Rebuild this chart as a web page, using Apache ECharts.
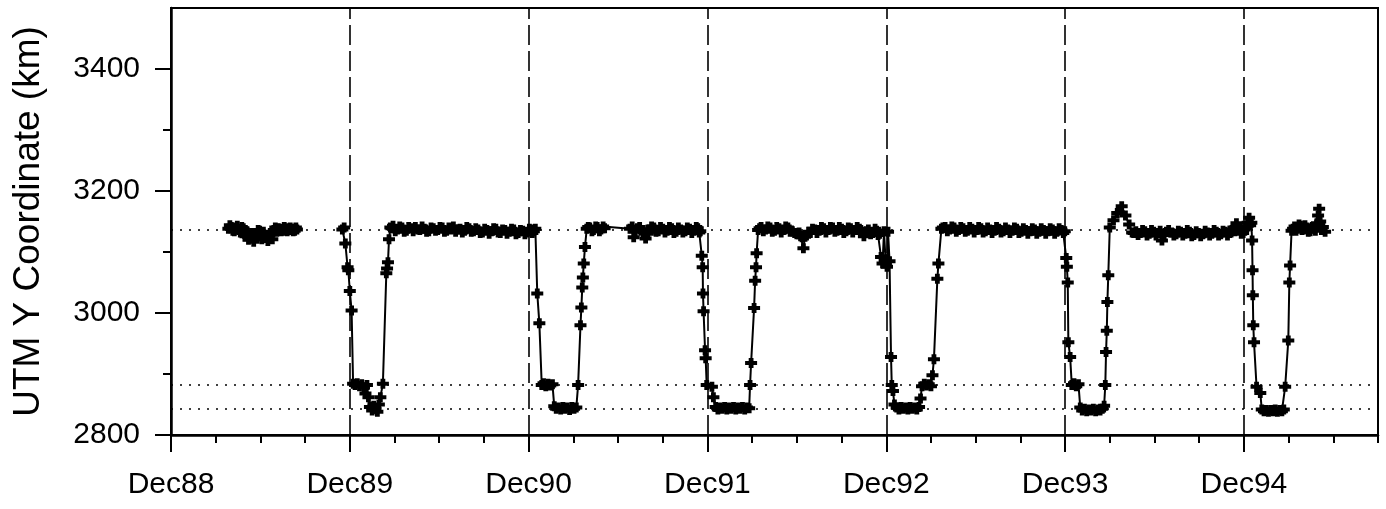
<!DOCTYPE html>
<html>
<head>
<meta charset="utf-8">
<script src="https://cdn.jsdelivr.net/npm/echarts@6/dist/echarts.min.js"></script>
<style>
  html, body { margin: 0; padding: 0; background: #fff; }
  #chart { width: 1386px; height: 509px; }
</style>
</head>
<body>
<div id="chart"></div>
<script>
// Time is counted in months after December 1988.
const yearTicks = [0, 12, 24, 36, 48, 60, 72];
const yearLabels = ['Dec88', 'Dec89', 'Dec90', 'Dec91', 'Dec92', 'Dec93', 'Dec94'];
const quarterTicks = [0, 3, 6, 9, 12, 15, 18, 21, 24, 27, 30, 33, 36, 39, 42, 45, 48, 51, 54, 57, 60, 63, 66, 69, 72, 75, 78, 81];
const yTicks = [2800, 2900, 3000, 3100, 3200, 3300, 3400];
const yLabelTicks = [2800, 3000, 3200, 3400];
const winterLines = [12, 24, 36, 48, 60, 72];
const referenceLevels = [3136, 2882, 2843];

// Fixes [month, UTM Y km]
const fixes1989 = [
  [3.85,3138],[3.95,3144],[4.05,3141],[4.15,3135],[4.25,3134],[4.35,3140],[4.45,3143],[4.55,3136],
  [4.65,3132],[4.75,3141],[4.85,3139],[4.92,3130],[5.0,3126],[5.1,3133],[5.2,3120],[5.3,3128],
  [5.4,3131],[5.48,3124],[5.55,3117],[5.65,3130],[5.75,3125],[5.85,3136],[5.95,3135],[6.02,3127],
  [6.1,3121],[6.2,3133],[6.3,3128],[6.4,3124],[6.5,3118],[6.6,3127],[6.7,3130],[6.8,3121],
  [6.9,3136],[7.0,3140],[7.1,3133],[7.2,3139],[7.3,3138],[7.4,3134],[7.5,3135],[7.6,3141],
  [7.7,3139],[7.8,3134],[7.9,3136],[8.0,3140],[8.1,3138],[8.2,3134],[8.3,3135],[8.38,3140],[8.45,3137]
];

const winter1990 = [
  [11.5,3137],[11.62,3140],[11.7,3114],[11.85,3075],[11.9,3070],[12.0,3036],[12.12,3004],[12.22,2884],
  [12.35,2882],[12.5,2885],[12.65,2880],[12.8,2883],[12.95,2878],[13.05,2868],[13.15,2882],[13.25,2862],
  [13.35,2846],[13.5,2840],[13.6,2848],[13.72,2843],[13.85,2838],[13.95,2850],[14.05,2862],[14.22,2884],
  [14.45,3065],[14.5,3073],[14.56,3083],[14.63,3121],[14.72,3140]
];
const summer1990 = [
  [14.8,3139],[14.9,3143],[15.05,3134],[15.2,3137],[15.35,3142],[15.5,3140],[15.65,3133],[15.8,3135],
  [15.95,3141],[16.1,3139],[16.25,3134],[16.4,3141],[16.55,3137],[16.7,3136],[16.85,3142],[17.0,3138],
  [17.15,3133],[17.3,3134],[17.45,3140],[17.6,3139],[17.75,3135],[17.9,3136],[18.05,3141],[18.2,3140],
  [18.35,3133],[18.5,3135],[18.65,3140],[18.8,3137],[18.95,3142],[19.1,3133],[19.25,3137],[19.4,3138],
  [19.55,3132],[19.7,3135],[19.85,3141],[20.0,3139],[20.15,3133],[20.3,3134],[20.45,3139],[20.6,3137],
  [20.75,3131],[20.9,3132],[21.05,3138],[21.2,3136],[21.35,3130],[21.5,3134],[21.65,3139],[21.8,3138],
  [21.95,3132],[22.1,3131],[22.25,3137],[22.4,3136],[22.55,3130],[22.7,3133],[22.85,3138],[23.0,3137],
  [23.15,3129],[23.3,3131],[23.45,3136],[23.6,3135],[23.75,3129],[23.9,3132],[24.05,3138],[24.15,3137],
  [24.25,3131],[24.35,3134]
];

const winter1991 = [
  [24.45,3138],[24.58,3032],[24.72,2983],[24.88,2882],[25.0,2885],[25.15,2880],[25.3,2884],[25.45,2881],
  [25.6,2883],[25.72,2847],[25.85,2843],[26.0,2845],[26.15,2842],[26.3,2846],[26.45,2843],[26.6,2845],
  [26.75,2841],[26.9,2846],[27.05,2843],[27.2,2845],[27.32,2882],[27.48,2980],[27.54,3009],[27.6,3042],
  [27.64,3058],[27.7,3081],[27.78,3108],[27.9,3138]
];
const summer1991 = [
  [28.0,3141],[28.1,3140],[28.25,3134],[28.35,3136],[28.5,3142],[28.6,3141],[28.75,3134],[28.85,3137],
  [29.0,3142],[29.1,3139],
  [30.8,3138],[30.95,3142],[31.05,3124],[31.15,3134],[31.3,3139],[31.45,3141],[31.55,3135],[31.7,3132],
  [31.85,3122],[32.0,3130],[32.1,3137],[32.25,3142],[32.4,3140],[32.55,3133],[32.7,3134],[32.85,3141],
  [33.0,3138],[33.15,3132],[33.3,3135],[33.45,3141],[33.6,3139],[33.75,3131],[33.9,3133],[34.05,3140],
  [34.2,3137],[34.35,3132],[34.5,3134],[34.65,3140],[34.8,3138],[34.95,3131],[35.1,3135],[35.25,3141],
  [35.35,3139],[35.45,3132],[35.52,3134]
];

const winter1992 = [
  [35.62,3094],[35.68,3075],[35.7,3032],[35.74,3003],[35.84,2939],[35.88,2926],[35.95,2882],[36.3,2879],
  [36.4,2862],[36.55,2846],[36.7,2842],[36.85,2845],[37.0,2843],[37.15,2846],[37.3,2842],[37.45,2845],
  [37.6,2843],[37.75,2846],[37.9,2842],[38.05,2845],[38.2,2843],[38.35,2846],[38.5,2842],[38.65,2845],
  [38.8,2844],[38.86,2882],[38.93,2918],[39.13,3008],[39.2,3053],[39.26,3075],[39.3,3098],[39.4,3136]
];
const summer1992 = [
  [39.5,3139],[39.6,3141],[39.75,3134],[39.9,3137],[40.05,3142],[40.2,3140],[40.35,3133],[40.5,3135],
  [40.65,3141],[40.8,3139],[40.95,3132],[41.1,3136],[41.25,3142],[41.4,3140],[41.55,3133],[41.7,3134],
  [41.85,3131],[42.0,3129],[42.15,3132],[42.25,3126],[42.35,3124],[42.44,3106],[42.55,3125],[42.65,3127],
  [42.8,3133],[42.9,3131],[43.05,3138],[43.2,3137],[43.35,3131],[43.5,3135],[43.65,3141],[43.8,3139],
  [43.95,3132],[44.1,3136],[44.25,3141],[44.4,3140],[44.55,3133],[44.7,3135],[44.85,3141],[45.0,3138],
  [45.15,3131],[45.3,3134],[45.45,3140],[45.6,3139],[45.75,3132],[45.9,3136],[46.05,3141],[46.2,3138],
  [46.35,3131],[46.5,3126],[46.65,3134],[46.8,3137],[46.95,3129],[47.1,3131],[47.25,3138],[47.35,3135],
  [47.45,3128],[47.55,3130]
];

const winter1993 = [
  [47.65,3092],[47.75,3081],[47.85,3134],[47.95,3088],[48.05,3076],[48.12,3133],[48.22,3085],[48.32,2928],
  [48.37,2882],[48.45,2872],[48.55,2850],[48.7,2845],[48.85,2842],[49.0,2846],[49.15,2843],[49.3,2845],
  [49.45,2842],[49.6,2846],[49.75,2843],[49.9,2845],[50.05,2842],[50.2,2846],[50.3,2860],[50.4,2880],
  [50.55,2884],[50.7,2881],[50.85,2883],[51.0,2880],[51.1,2898],[51.2,2924],[51.43,3056],[51.5,3081],[51.7,3138]
];
const summer1993 = [
  [51.8,3140],[51.95,3141],[52.1,3134],[52.25,3137],[52.4,3142],[52.55,3140],[52.7,3133],[52.85,3136],
  [53.0,3141],[53.15,3139],[53.3,3133],[53.45,3135],[53.6,3141],[53.75,3138],[53.9,3132],[54.05,3136],
  [54.2,3141],[54.35,3139],[54.5,3132],[54.65,3134],[54.8,3140],[54.95,3137],[55.1,3131],[55.25,3135],
  [55.4,3141],[55.55,3138],[55.7,3132],[55.85,3134],[56.0,3140],[56.15,3137],[56.3,3131],[56.45,3135],
  [56.6,3140],[56.75,3138],[56.9,3131],[57.05,3133],[57.2,3139],[57.35,3136],[57.5,3130],[57.65,3134],
  [57.8,3139],[57.95,3137],[58.1,3130],[58.25,3133],[58.4,3139],[58.55,3136],[58.7,3130],[58.85,3134],
  [59.0,3139],[59.15,3137],[59.3,3130],[59.45,3133],[59.6,3139],[59.75,3136],[59.88,3131],[59.98,3134]
];

const winter1994 = [
  [60.08,3090],[60.12,3076],[60.18,3050],[60.22,2952],[60.34,2928],[60.45,2882],[60.6,2885],[60.75,2880],
  [60.9,2883],[61.02,2845],[61.15,2840],[61.3,2843],[61.45,2839],[61.6,2842],[61.75,2840],[61.9,2843],
  [62.05,2839],[62.2,2842],[62.35,2840],[62.5,2843],[62.62,2848],[62.7,2882],[62.75,2936],[62.8,2971],
  [62.84,3018],[62.9,3062],[63.0,3140],[63.25,3152],[63.5,3164],[63.8,3175],[64.05,3160],[64.3,3145],[64.5,3132]
];
const summer1994 = [
  [64.6,3131],[64.75,3134],[64.9,3128],[65.05,3131],[65.2,3136],[65.35,3134],[65.5,3127],[65.65,3130],
  [65.8,3136],[65.95,3133],[66.1,3127],[66.25,3131],[66.38,3135],[66.5,3119],[66.65,3128],[66.8,3133],
  [66.95,3136],[67.15,3132],[67.3,3127],[67.45,3129],[67.6,3135],[67.75,3133],[67.9,3127],[68.05,3130],
  [68.2,3136],[68.35,3133],[68.5,3126],[68.65,3128],[68.8,3134],[68.95,3131],[69.1,3126],[69.25,3129],
  [69.4,3135],[69.55,3132],[69.7,3127],[69.85,3130],[70.0,3136],[70.15,3133],[70.3,3127],[70.45,3129],
  [70.6,3135],[70.75,3133],[70.9,3127],[71.05,3131],[71.2,3136],[71.3,3140],[71.4,3134],[71.5,3147],
  [71.6,3141],[71.7,3136],[71.82,3130],[71.95,3131],[72.05,3137],[72.15,3142],[72.25,3148],[72.35,3156],
  [72.42,3144],[72.5,3148]
];

const winter1995 = [
  [72.55,3119],[72.58,3070],[72.6,3029],[72.63,2980],[72.68,2952],[72.85,2879],[73.1,2869],[73.2,2842],
  [73.35,2839],[73.5,2841],[73.65,2838],[73.8,2841],[73.95,2839],[74.1,2842],[74.25,2838],[74.4,2841],
  [74.55,2839],[74.68,2842],[74.77,2879],[74.98,2955],[75.05,3050],[75.1,3078],[75.2,3135]
];
const summer1995 = [
  [75.3,3138],[75.4,3142],[75.5,3135],[75.6,3138],[75.7,3145],[75.8,3143],[75.9,3136],[76.0,3137],
  [76.1,3144],[76.2,3140],[76.32,3133],[76.45,3134],[76.58,3141],[76.7,3139],[76.8,3135],[76.9,3147],
  [76.98,3160],[77.05,3171],[77.12,3150],[77.2,3136],[77.3,3141],[77.45,3133]
];

const track = [].concat(
  winter1990, summer1990, winter1991, summer1991, winter1992, summer1992,
  winter1993, summer1993, winter1994, summer1994, winter1995, summer1995
);

const FONT = '"Liberation Sans", Arial, Helvetica, sans-serif';
const INK = '#000';
const plusSymbol = 'path://M0,3H3V0H7V3H10V7H7V10H3V7H0Z';

const trackStyle = {
  type: 'line',
  xAxisIndex: 0,
  yAxisIndex: 0,
  symbol: plusSymbol,
  symbolSize: [12, 10],
  showSymbol: true,
  showAllSymbol: true,
  itemStyle: { color: INK },
  lineStyle: { color: INK, width: 2 },
  z: 5,
  silent: true
};

// The second grid shares the plot rectangle and only carries the long ticks.
const plotRect = { left: 171, right: 8, top: 8, bottom: 74 };

const chart = echarts.init(document.getElementById('chart'), null, { renderer: 'canvas' });
chart.setOption({
  animation: false,
  backgroundColor: '#fff',
  grid: [
    Object.assign({ show: true, borderColor: INK, borderWidth: 2, backgroundColor: 'transparent' }, plotRect),
    Object.assign({ show: false }, plotRect)
  ],
  xAxis: [
    {
      gridIndex: 0, type: 'value', min: 0, max: 81, position: 'bottom',
      axisLine: { show: true, lineStyle: { color: INK, width: 2.5 } },
      axisTick: { show: true, inside: false, length: 8, customValues: quarterTicks, lineStyle: { color: INK, width: 2 } },
      axisLabel: {
        customValues: yearTicks, margin: 35, fontSize: 30, color: INK, fontFamily: FONT,
        formatter: v => yearLabels[Math.round(v / 12)]
      },
      splitLine: { show: false }
    },
    {
      gridIndex: 1, type: 'value', min: 0, max: 81, position: 'bottom',
      axisLine: { show: false },
      axisTick: { show: true, inside: false, length: 17, customValues: yearTicks, lineStyle: { color: INK, width: 2 } },
      axisLabel: { show: false },
      splitLine: { show: false }
    }
  ],
  yAxis: [
    {
      gridIndex: 0, type: 'value', min: 2800, max: 3500, position: 'left',
      name: 'UTM Y Coordinate (km)', nameLocation: 'middle', nameGap: 124,
      nameTextStyle: { fontSize: 37, color: INK, fontFamily: FONT },
      axisLine: { show: true, lineStyle: { color: INK, width: 2.5 } },
      axisTick: { show: true, inside: false, length: 8, customValues: yTicks, lineStyle: { color: INK, width: 2 } },
      axisLabel: {
        customValues: yLabelTicks, margin: 31, fontSize: 30, color: INK, fontFamily: FONT,
        formatter: v => String(v)
      },
      splitLine: { show: false }
    },
    {
      gridIndex: 1, type: 'value', min: 2800, max: 3500, position: 'left',
      axisLine: { show: false },
      axisTick: { show: true, inside: false, length: 16, customValues: yLabelTicks, lineStyle: { color: INK, width: 2 } },
      axisLabel: { show: false },
      splitLine: { show: false }
    }
  ],
  series: [
    {
      type: 'line', data: [], xAxisIndex: 0, yAxisIndex: 0, z: 2, silent: true,
      markLine: {
        silent: true, symbol: ['none', 'none'], label: { show: false },
        lineStyle: { color: INK, width: 1.6, type: [20, 6] },
        data: winterLines.map(m => ({ xAxis: m }))
      }
    },
    {
      type: 'line', data: [], xAxisIndex: 0, yAxisIndex: 0, z: 2, silent: true,
      markLine: {
        silent: true, symbol: ['none', 'none'], label: { show: false },
        lineStyle: { color: INK, width: 1.5, type: [2, 7] },
        data: referenceLevels.map(v => ({ yAxis: v }))
      }
    },
    Object.assign({ data: fixes1989 }, trackStyle),
    Object.assign({ data: track }, trackStyle)
  ]
});
</script>
</body>
</html>
